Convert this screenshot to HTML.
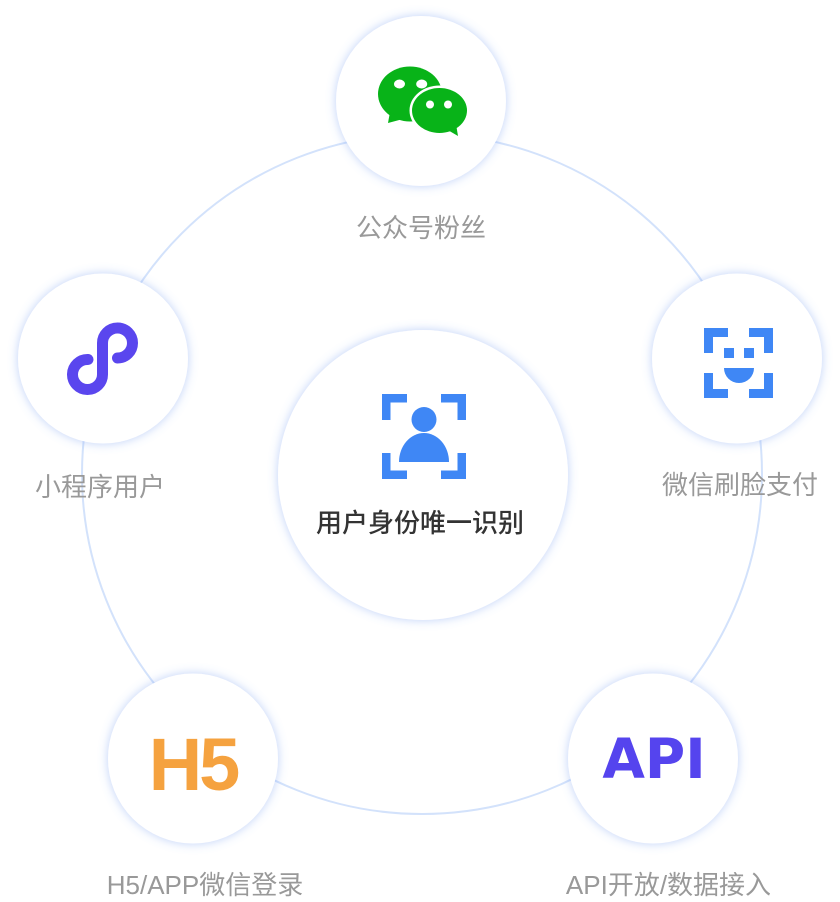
<!DOCTYPE html>
<html>
<head>
<meta charset="utf-8">
<style>
html,body{margin:0;padding:0;background:#fff;}
body{width:840px;height:902px;overflow:hidden;}
svg{display:block;}
.lbl{font-family:"Liberation Sans","Noto Sans CJK SC",sans-serif;font-size:26px;fill:#999;}
</style>
</head>
<body>
<svg width="840" height="902" viewBox="0 0 840 902" xmlns="http://www.w3.org/2000/svg">
<defs>
<filter id="sh" x="-30%" y="-30%" width="160%" height="160%">
<feDropShadow dx="0" dy="0" stdDeviation="5" flood-color="#6f98f0" flood-opacity="0.45"/>
</filter>
</defs>
<!-- ring -->
<circle cx="422" cy="474" r="340" fill="none" stroke="#d3e2fb" stroke-width="2"/>

<!-- circles -->
<circle cx="423" cy="475" r="145" fill="#fff" filter="url(#sh)"/>
<circle cx="421" cy="101" r="85" fill="#fff" filter="url(#sh)"/>
<circle cx="103" cy="358.5" r="85" fill="#fff" filter="url(#sh)"/>
<circle cx="737" cy="358.5" r="85" fill="#fff" filter="url(#sh)"/>
<circle cx="193" cy="758.5" r="85" fill="#fff" filter="url(#sh)"/>
<circle cx="653" cy="758.5" r="85" fill="#fff" filter="url(#sh)"/>

<!-- wechat icon -->
<g fill="#08b318">
<ellipse cx="410" cy="94" rx="32" ry="27.5"/>
<polygon points="390,112 403,119 388,123"/>
</g>
<ellipse cx="439.5" cy="110.5" rx="30" ry="25" fill="#fff"/>
<g fill="#08b318">
<ellipse cx="439.5" cy="110.5" rx="27.5" ry="22.5"/>
<polygon points="446,129 456,124 458,136"/>
</g>
<g fill="#fff">
<ellipse cx="399.5" cy="84" rx="5.5" ry="4.5"/>
<ellipse cx="421.7" cy="84" rx="5.5" ry="4.5"/>
<ellipse cx="430" cy="104.5" rx="4" ry="4"/>
<ellipse cx="448" cy="104.5" rx="4" ry="4"/>
</g>

<!-- mini program icon -->
<path d="M88 359.5 A15 15 0 1 0 102.5 374.5 L102.5 343 A15 15 0 1 1 117.5 358" fill="none" stroke="#5a46ee" stroke-width="11" stroke-linecap="round"/>

<!-- face pay icon -->
<g fill="#3f87f5">
<rect x="704" y="328" width="24" height="9"/>
<rect x="704" y="328" width="9" height="25"/>
<rect x="749" y="328" width="24" height="9"/>
<rect x="764" y="328" width="9" height="25"/>
<rect x="704" y="389" width="24" height="9"/>
<rect x="704" y="373" width="9" height="25"/>
<rect x="749" y="389" width="24" height="9"/>
<rect x="764" y="373" width="9" height="25"/>
<rect x="724" y="348" width="10" height="10"/>
<rect x="744" y="348" width="10" height="10"/>
<path d="M724 368 A15 15 0 0 0 754 368 Z"/>
</g>

<!-- center icon -->
<g fill="#3f87f5">
<rect x="382" y="394" width="25" height="8.5"/>
<rect x="382" y="394" width="8.5" height="26"/>
<rect x="441" y="394" width="25" height="8.5"/>
<rect x="457.5" y="394" width="8.5" height="26"/>
<rect x="382" y="470.5" width="25" height="8.5"/>
<rect x="382" y="453" width="8.5" height="26"/>
<rect x="441" y="470.5" width="25" height="8.5"/>
<rect x="457.5" y="453" width="8.5" height="26"/>
<circle cx="424" cy="419.5" r="12.5"/>
<path d="M399 462 A25 29 0 0 1 449 462 Z"/>
</g>

<!-- center text -->
<text x="420" y="532" text-anchor="middle" font-family="Liberation Sans, Noto Sans CJK SC, sans-serif" font-size="26" font-weight="500" fill="#333">用户身份唯一识别</text>

<!-- H5 -->
<text x="193" y="790" text-anchor="middle" font-family="Liberation Sans, sans-serif" font-size="74" font-weight="bold" letter-spacing="-3" fill="#f5a23f">H5</text>
<!-- API -->
<text x="654" y="778" text-anchor="middle" font-family="DejaVu Sans, sans-serif" font-size="55" font-weight="bold" fill="#5544ee">API</text>

<!-- labels -->
<text class="lbl" x="421" y="237" text-anchor="middle">公众号粉丝</text>
<text class="lbl" x="100" y="496" text-anchor="middle">小程序用户</text>
<text class="lbl" x="740" y="494" text-anchor="middle">微信刷脸支付</text>
<text class="lbl" x="205" y="894" text-anchor="middle">H5/APP微信登录</text>
<text class="lbl" x="668.5" y="894" text-anchor="middle">API开放/数据接入</text>
</svg>
</body>
</html>
